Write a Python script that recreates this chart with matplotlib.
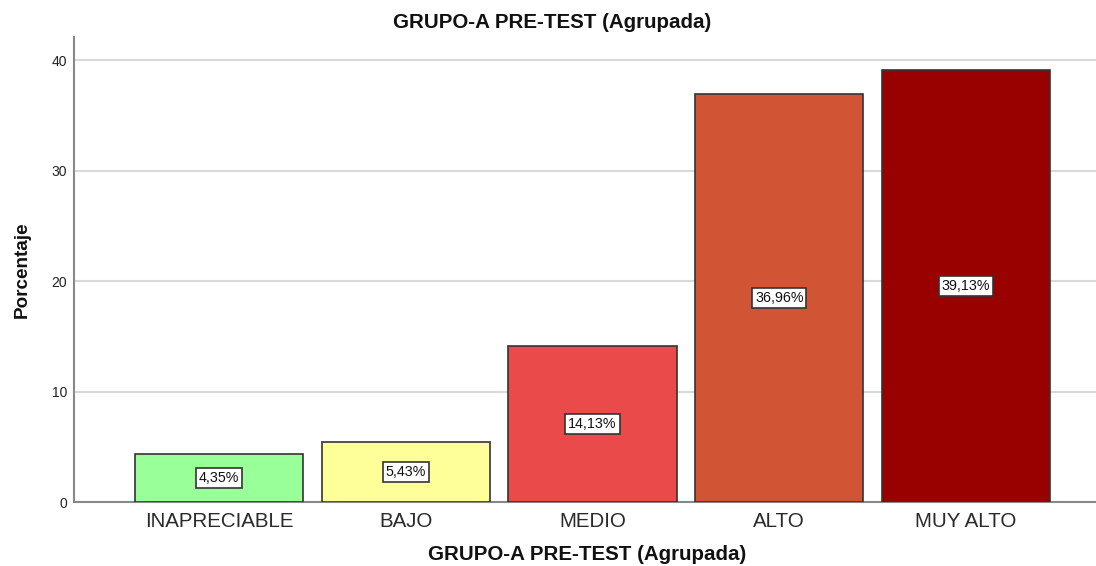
import matplotlib
matplotlib.use("Agg")
import matplotlib.pyplot as plt

categories = ["INAPRECIABLE", "BAJO", "MEDIO", "ALTO", "MUY ALTO"]
values = [4.35, 5.43, 14.13, 36.96, 39.13]
value_labels = ["4,35%", "5,43%", "14,13%", "36,96%", "39,13%"]
colors = ["#99FF99", "#FFFF99", "#EB4A4A", "#D15535", "#990000"]
yticks = [0, 10, 20, 30, 40]

plt.rcParams['font.family'] = ['Liberation Sans', 'DejaVu Sans']

fig = plt.figure(figsize=(10.96, 5.66), dpi=100)
W, H = 1096, 566
ax = fig.add_axes([74 / W, 1 - 502 / H, 1 - 74 / W, (502 - 37) / H])

x = list(range(len(categories)))
ax.bar(x, values, width=0.9, color=colors, edgecolor="#333333", linewidth=1.2, zorder=3)

for xi, v, lab in zip(x, values, value_labels):
    ax.text(xi, v / 2, lab, ha="center", va="center", fontsize=10.3, color="#111111",
            bbox=dict(boxstyle="square,pad=0.2", facecolor="white", edgecolor="#333333", linewidth=1.2),
            zorder=4)

ax.set_xlim(-0.776, 4.696)
ax.set_ylim(0, 42.1)
ax.set_yticks(yticks)
ax.set_yticklabels([str(t) for t in yticks], fontsize=10, color="#222222")
ax.set_xticks(x)
ax.set_xticklabels(categories, fontsize=14.8, color="#2a2a2a")
ax.tick_params(axis="both", length=0)
ax.tick_params(axis="x", pad=7)
ax.tick_params(axis="y", pad=5)

ax.yaxis.grid(True, color="#D9D9D9", linewidth=1.5, zorder=0)
ax.set_axisbelow(True)
for s in ["top", "right"]:
    ax.spines[s].set_visible(False)
for s in ["left", "bottom"]:
    ax.spines[s].set_color("#888888")
    ax.spines[s].set_linewidth(1.5)

fig.text(552.5 / W, 1 - 22 / H, "GRUPO-A PRE-TEST (Agrupada)", ha="center", va="center",
         fontsize=14.8, fontweight="bold", color="#111111")
fig.text(587.5 / W, 1 - 560 / H, "GRUPO-A PRE-TEST (Agrupada)", ha="center", va="baseline",
         fontsize=14.8, fontweight="bold", color="#111111")
fig.text(22 / W, 1 - 269.5 / H, "Porcentaje", ha="center", va="center", rotation=90,
         fontsize=13.6, fontweight="bold", color="#111111")

fig.savefig("out.png", dpi=100)
